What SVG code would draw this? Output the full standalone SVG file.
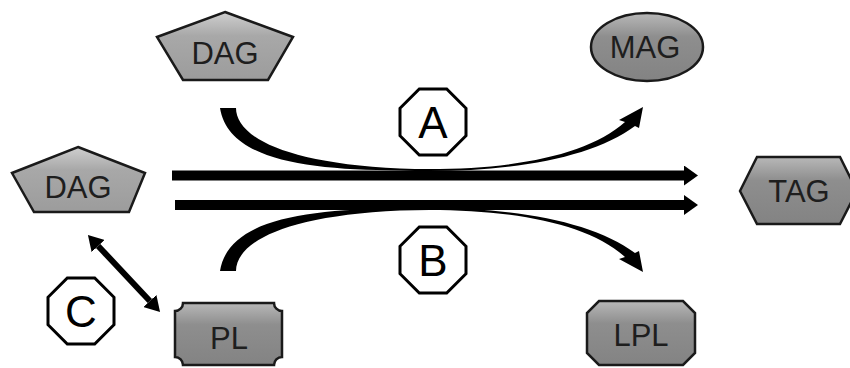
<svg xmlns="http://www.w3.org/2000/svg" width="850" height="368" viewBox="0 0 850 368">
<defs>
<linearGradient id="gLight" x1="0" y1="0" x2="0" y2="1">
<stop offset="0" stop-color="#cfcfcf"/>
<stop offset="0.35" stop-color="#a8a8a8"/>
<stop offset="1" stop-color="#9c9c9c"/>
</linearGradient>
<linearGradient id="gDark" x1="0" y1="0" x2="0" y2="1">
<stop offset="0" stop-color="#b8b8b8"/>
<stop offset="0.35" stop-color="#8e8e8e"/>
<stop offset="1" stop-color="#838383"/>
</linearGradient>
<marker id="headH" viewBox="0 0 14 20" refX="0" refY="10" markerWidth="14" markerHeight="20" markerUnits="userSpaceOnUse" orient="auto-start-reverse">
<path d="M0,0 L14,10 L0,20 Z" fill="#000"/>
</marker>
<marker id="headC" viewBox="0 0 15 18" refX="0" refY="9" markerWidth="15" markerHeight="18" markerUnits="userSpaceOnUse" orient="auto-start-reverse">
<path d="M0,0 L15,9 L0,18 Z" fill="#000"/>
</marker>
</defs>
<style>
.light{fill:url(#gLight);stroke:#1a1a1a;stroke-width:2.5;}
.dark{fill:url(#gDark);stroke:#1a1a1a;stroke-width:2.5;}
.lbl{font-family:"Liberation Sans",Arial,sans-serif;font-size:31px;fill:#1e1e1e;text-anchor:middle;}
.oct{fill:#fff;stroke:#000;stroke-width:3;}
.big{font-family:"Liberation Sans",Arial,sans-serif;font-size:44px;fill:#000;text-anchor:middle;}
.shaft{stroke:#000;stroke-width:10;fill:none;}
.curve{fill:#000;stroke:none;}
</style>
<rect width="850" height="368" fill="#fff"/>

<g id="connectors">
<line class="shaft" x1="172" y1="175.5" x2="684" y2="175.5" marker-end="url(#headH)"/>
<line class="shaft" x1="175" y1="205" x2="684" y2="205" marker-end="url(#headH)"/>
<path id="curveA" class="curve" d="M220,108 L236,108 C236,135 280,163 400,168.5 C500,172 585,158 625,122 L619,120 L643,107 L639,128 L635,126 C590,160 500,174 400,170.5 C300,170 228,158 220,108 Z"/>
<path id="curveB" class="curve" transform="matrix(1 0 0 -1 0 379)" d="M220,108 L236,108 C236,135 280,163 400,168.5 C500,172 585,158 625,122 L619,120 L643,107 L639,128 L635,126 C590,160 500,174 400,170.5 C300,170 228,158 220,108 Z"/>
<line x1="98.2" y1="246" x2="149.8" y2="301" stroke="#000" stroke-width="6" marker-start="url(#headC)" marker-end="url(#headC)"/>
</g>

<g id="dag-top">
<polygon class="light" points="225,12 293,37 268,80 183,80 157,37"/>
<text class="lbl" x="225" y="64">DAG</text>
</g>

<g id="dag-left">
<polygon class="light" points="78,147 145,173 129,212 34,212 12,173"/>
<text class="lbl" x="78" y="198">DAG</text>
</g>

<g id="mag">
<ellipse class="dark" cx="647" cy="47" rx="56" ry="34"/>
<text class="lbl" x="645" y="58">MAG</text>
</g>

<g id="tag">
<polygon class="dark" points="740,191 757,157 840,157 857,191 840,224 757,224"/>
<text class="lbl" x="799" y="202">TAG</text>
</g>

<g id="pl">
<path class="dark" d="M183,303 L274,303 A8,8 0 0 0 282,311 L282,357 A8,8 0 0 0 274,365 L183,365 A8,8 0 0 0 175,357 L175,311 A8,8 0 0 0 183,303 Z"/>
<text class="lbl" x="229" y="349">PL</text>
</g>

<g id="lpl">
<polygon class="dark" points="599,301 683,301 695,313 695,353 683,365 599,365 587,353 587,313"/>
<text class="lbl" x="641" y="346">LPL</text>
</g>

<g id="label-a">
<polygon class="oct" points="419.3,89 446.7,89 466,108.3 466,135.7 446.7,155 419.3,155 400,135.7 400,108.3"/>
<text class="big" x="433" y="138">A</text>
</g>

<g id="label-b">
<polygon class="oct" points="419.3,227 446.7,227 466,246.3 466,273.7 446.7,293 419.3,293 400,273.7 400,246.3"/>
<text class="big" x="433" y="276">B</text>
</g>

<g id="label-c">
<polygon class="oct" points="67.3,278 94.7,278 114,297.3 114,324.7 94.7,344 67.3,344 48,324.7 48,297.3"/>
<text class="big" x="81" y="327">C</text>
</g>
</svg>
